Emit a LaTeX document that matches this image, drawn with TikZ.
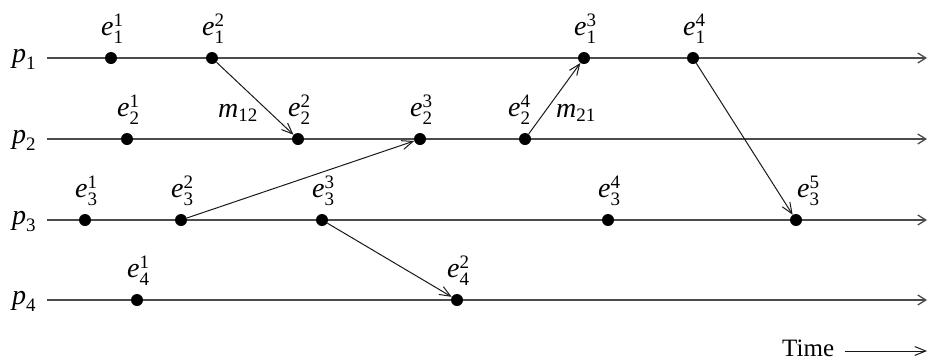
\documentclass[tikz,border=0pt]{standalone}
\usepackage{fontspec}
\setmainfont{Liberation Serif}
\usetikzlibrary{arrows.meta}
\newcommand{\scr}{\fontsize{19}{19}\selectfont}
\newcommand{\ev}[3]{\textit{#1}\makebox[0pt][l]{\raisebox{9pt}{\scr #3}}\raisebox{-8pt}{\scr #2}}
\newcommand{\pr}[2]{\textit{#1}\raisebox{-7pt}{\scr #2}}
\begin{document}
\begin{tikzpicture}[x=1pt,y=-1pt,
  every node/.style={font=\fontsize{28}{32}\selectfont, inner sep=0pt},
  dot/.style={circle, fill=black, minimum size=12pt},
  proc/.style={draw=black!70, line width=1.3pt, -{Straight Barb[length=8pt,width=10pt]}},
  msg/.style={draw=black!90, line width=1pt, -{Straight Barb[length=11pt,width=9pt]}},
  lab/.style={anchor=base west}]
\useasboundingbox (0,0) rectangle (929,360);
% process lines
\foreach \i/\y in {1/58,2/139,3/220,4/300}{
  \coordinate (s\i) at (47,\y);
  \coordinate (t\i) at (927,\y);
  \draw[proc] (s\i) -- (t\i);
}
\node[lab] (p1) at (12,62) {\pr{p}{1}};
\node[lab] (p2) at (12,143) {\pr{p}{2}};
\node[lab] (p3) at (12,224) {\pr{p}{3}};
\node[lab] (p4) at (12,304) {\pr{p}{4}};
% events
\node[dot] (e11) at (111,58) {};
\node[dot] (e12) at (212,58) {};
\node[dot] (e13) at (584,58) {};
\node[dot] (e14) at (693,58) {};
\node[dot] (e21) at (127,139) {};
\node[dot] (e22) at (298,139) {};
\node[dot] (e23) at (420,139) {};
\node[dot] (e24) at (525,139) {};
\node[dot] (e31) at (85,220) {};
\node[dot] (e32) at (181,220) {};
\node[dot] (e33) at (322,220) {};
\node[dot] (e34) at (608,220) {};
\node[dot] (e35) at (796,220) {};
\node[dot] (e41) at (137,300) {};
\node[dot] (e42) at (457,300) {};
% event labels
\foreach \n/\s/\t in {11/1/1,12/1/2,13/1/3,14/1/4,21/2/1,22/2/2,23/2/3,31/3/1,32/3/2,33/3/3,34/3/4,41/4/1,42/4/2}{
  \node[lab] (l\n) at ([xshift=-10pt,yshift=23pt]e\n.center) {\ev{e}{\s}{\t}};
}
\node[lab] (l24) at ([xshift=-17pt,yshift=23pt]e24.center) {\ev{e}{2}{4}};
\node[lab] (l35) at ([xshift=1pt,yshift=23pt]e35.center) {\ev{e}{3}{5}};
% messages
\draw[msg] (e12) -- (e22);
\draw[msg] (e32) -- (e23);
\draw[msg] (e24) -- (e13);
\draw[msg] (e14) -- (e35);
\draw[msg] (e33) -- (e42);
\node[lab] (m12) at (218,117) {\textit{m}\raisebox{-4pt}{\scr 12}};
\node[lab] (m21) at (556,117) {\textit{m}\raisebox{-4pt}{\scr 21}};
% time
\node[lab, font=\fontsize{25}{30}\selectfont] (time) at (782,356) {Time};
\coordinate (ts) at (845,351);
\coordinate (te) at (927,351);
\draw[msg] (ts) -- (te);
\end{tikzpicture}
\end{document}
